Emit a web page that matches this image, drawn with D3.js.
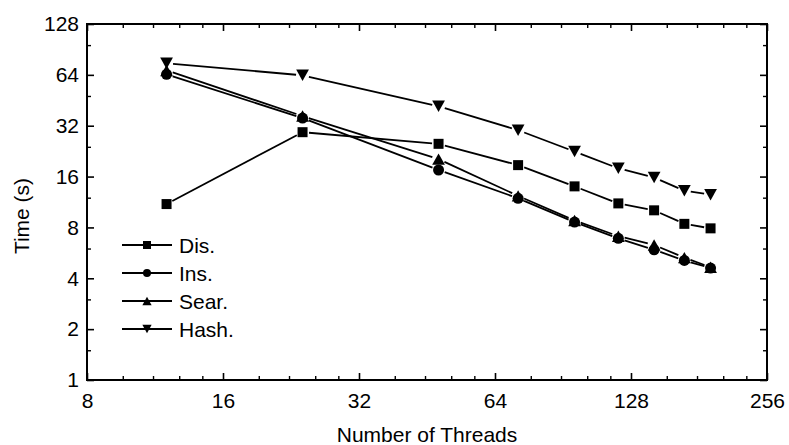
<!DOCTYPE html>
<html>
<head>
<meta charset="utf-8">
<script src="https://cdn.jsdelivr.net/npm/d3@7"></script>
<style>
  html, body { margin: 0; padding: 0; background: #fff; }
  svg { display: block; }
  text { font-family: "Liberation Sans", Arial, sans-serif; fill: #000; }
</style>
</head>
<body>
<svg id="chart" width="789" height="445"></svg>
<script>
// Thread counts along the x axis
const threads = [12, 24, 48, 72, 96, 120, 144, 168, 192];

// Execution time (seconds) for each workload
const disTimes  = [11.0, 29.3, 25.0, 18.7, 14.0, 11.1, 10.1, 8.4, 7.9];
const insTimes  = [64.5, 35.5, 17.5, 11.9, 8.6, 6.9, 5.9, 5.1, 4.6];
const searTimes = [68.0, 36.5, 20.3, 12.3, 8.8, 7.1, 6.3, 5.3, 4.65];
const hashTimes = [75.0, 63.6, 41.7, 30.1, 22.5, 17.9, 15.8, 13.2, 12.5];

const seriesNames = ["Dis.", "Ins.", "Sear.", "Hash."];
const seriesShapes = ["square", "circle", "triUp", "triDown"];

// Axis ticks
const xTicks = [8, 16, 32, 64, 128, 256];
const yTicks = [1, 2, 4, 8, 16, 32, 64, 128];

const series = [
  { name: seriesNames[0], shape: seriesShapes[0], values: disTimes },
  { name: seriesNames[1], shape: seriesShapes[1], values: insTimes },
  { name: seriesNames[2], shape: seriesShapes[2], values: searTimes },
  { name: seriesNames[3], shape: seriesShapes[3], values: hashTimes }
];

const svg = d3.select("#chart");
const plot = { left: 87, right: 767, top: 24, bottom: 380 };

const x = d3.scaleLog().base(2).domain([8, 256]).range([plot.left, plot.right]);
const y = d3.scaleLog().base(2).domain([1, 128]).range([plot.bottom, plot.top]);

// Minor ticks: four linear subdivisions per octave on x, one (at 1.5x) on y
const xMinor = [];
for (let i = 0; i < xTicks.length - 1; i++) {
  const a = xTicks[i], step = a / 5;
  for (let k = 1; k < 5; k++) xMinor.push(a + k * step);
}
const yMinor = [];
for (let i = 0; i < yTicks.length - 1; i++) yMinor.push(yTicks[i] * 1.5);

const MAJ = 7, MIN = 4;

const axisG = svg.append("g");

function inwardAxis(axisFn, scale, pos, major, minor, labels, dir) {
  const g = axisG.append("g").attr("transform", pos);
  // major ticks
  g.call(axisFn(scale).tickValues(major).tickSize(-MAJ).tickPadding(labels ? 12 : 0)
    .tickFormat(labels ? d3.format("d") : () => ""));
  g.select(".domain").remove();
  g.selectAll(".tick line").attr("stroke", "#000").attr("stroke-width", 1.6);
  g.selectAll(".tick text").style("font-size", "21px")
    .style("font-family", '"Liberation Sans", Arial, sans-serif').attr("fill", "#000");
  // minor ticks
  const gm = axisG.append("g").attr("transform", pos);
  gm.call(axisFn(scale).tickValues(minor).tickSize(-MIN).tickFormat(() => ""));
  gm.select(".domain").remove();
  gm.selectAll(".tick line").attr("stroke", "#000").attr("stroke-width", 1.4);
  return g;
}

const gx = inwardAxis(d3.axisBottom, x, `translate(0,${plot.bottom})`, xTicks, xMinor, true);
inwardAxis(d3.axisTop, x, `translate(0,${plot.top})`, xTicks, xMinor, false);
const gy = inwardAxis(d3.axisLeft, y, `translate(${plot.left},0)`, yTicks, yMinor, true);
inwardAxis(d3.axisRight, y, `translate(${plot.right},0)`, yTicks, yMinor, false);

gx.selectAll(".tick text").attr("dy", "0.71em").attr("y", 13);
gy.selectAll(".tick text").attr("x", -8);

// Frame
axisG.append("rect")
  .attr("x", plot.left).attr("y", plot.top)
  .attr("width", plot.right - plot.left).attr("height", plot.bottom - plot.top)
  .attr("fill", "none").attr("stroke", "#000").attr("stroke-width", 2);

// Axis titles
svg.append("text")
  .attr("x", (plot.left + plot.right) / 2).attr("y", 442)
  .attr("text-anchor", "middle").style("font-size", "21px")
  .text("Number of Threads");
svg.append("text")
  .attr("transform", `translate(29,216) rotate(-90)`)
  .attr("text-anchor", "middle").style("font-size", "21px")
  .text("Time (s)");

// Marker drawing
function markerPath(shape, s) {
  const h = s / 2;
  switch (shape) {
    case "square": return `M${-h},${-h}H${h}V${h}H${-h}Z`;
    case "circle": return d3.symbol(d3.symbolCircle, Math.PI * h * h)();
    case "triUp": { const w = s * 0.58, t = s * 0.52; return `M0,${-t}L${w},${t}L${-w},${t}Z`; }
    case "triDown": { const w = s * 0.58, t = s * 0.52; return `M0,${t}L${w},${-t}L${-w},${-t}Z`; }
  }
}

const dataG = svg.append("g");
const GAP = 6.5;

series.forEach(sr => {
  const pts = threads.map((t, i) => [x(t), y(sr.values[i])]);
  const g = dataG.append("g");
  // connecting segments, stopped short of each symbol
  for (let i = 0; i < pts.length - 1; i++) {
    const [x1, y1] = pts[i], [x2, y2] = pts[i + 1];
    const dx = x2 - x1, dy = y2 - y1, len = Math.hypot(dx, dy);
    if (len <= 2 * GAP) continue;
    const ux = dx / len, uy = dy / len;
    g.append("line")
      .attr("x1", x1 + ux * GAP).attr("y1", y1 + uy * GAP)
      .attr("x2", x2 - ux * GAP).attr("y2", y2 - uy * GAP)
      .attr("stroke", "#000").attr("stroke-width", 1.8);
  }
  g.selectAll("path.mk").data(pts).join("path")
    .attr("class", "mk")
    .attr("transform", d => `translate(${d[0]},${d[1]})`)
    .attr("d", markerPath(sr.shape, sr.shape === "square" ? 10 : 11))
    .attr("fill", "#000");
});

// Legend
const legend = svg.append("g");
series.forEach((sr, i) => {
  const yy = 245 + i * 28;
  const row = legend.append("g").attr("transform", `translate(0,${yy})`);
  row.append("line").attr("x1", 122).attr("x2", 172).attr("y1", 0).attr("y2", 0)
    .attr("stroke", "#000").attr("stroke-width", 1.8);
  row.append("path").attr("transform", "translate(147,0)")
    .attr("d", markerPath(sr.shape, 8)).attr("fill", "#000");
  row.append("text").attr("x", 179).attr("y", 0).attr("dy", "0.36em")
    .style("font-size", "21px").text(sr.name);
});
</script>
</body>
</html>
